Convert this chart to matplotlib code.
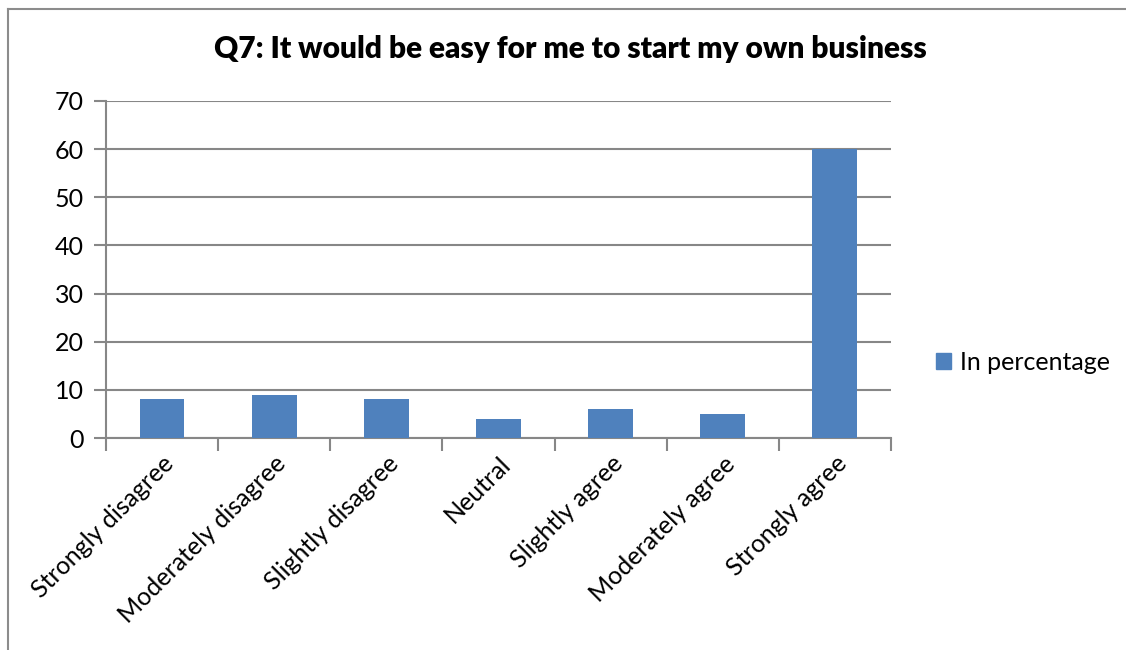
import matplotlib.pyplot as plt
from matplotlib.lines import Line2D
from matplotlib.patches import Patch

categories = ["Strongly disagree", "Moderately disagree", "Slightly disagree",
              "Neutral", "Slightly agree", "Moderately agree", "Strongly agree"]
percentages = [8, 9, 8, 4, 6, 5, 60]
y_ticks = [0, 10, 20, 30, 40, 50, 60, 70]

BAR = "#4F81BD"
GRID = "#878787"

plt.rcParams["font.family"] = ["Lato", "DejaVu Sans"]

fig = plt.figure(figsize=(11.26, 6.5), dpi=100)
ax = fig.add_axes([106 / 1126, 1 - 438 / 650, 785 / 1126, 337 / 650])

x = list(range(len(categories)))
ax.bar(x, percentages, width=0.4, color=BAR, zorder=3)

ax.set_xlim(-0.5, len(categories) - 0.5)
ax.set_ylim(0, 70)
ax.set_yticks(y_ticks)
ax.set_yticklabels([str(v) for v in y_ticks], fontsize=18)
ax.yaxis.grid(True, color=GRID, linewidth=1.5, zorder=0)
ax.tick_params(axis="y", length=9, width=1.5, color=GRID, pad=7)

# category labels in the middle, ticks on the category boundaries
ax.set_xticks(x)
ax.set_xticklabels(categories, rotation=45, ha="right", rotation_mode="anchor",
                   fontsize=18)
ax.tick_params(axis="x", length=0, pad=10)
ax.set_xticks([i - 0.5 for i in range(len(categories) + 1)], minor=True)
ax.tick_params(axis="x", which="minor", length=9, width=1.5, color=GRID)

for side in ["top", "right"]:
    ax.spines[side].set_visible(False)
for side in ["left", "bottom"]:
    ax.spines[side].set_color(GRID)
    ax.spines[side].set_linewidth(1.5)

fig.text(570 / 1126, 1 - 49 / 650, "Q7: It would be easy for me to start my own business",
         ha="center", va="center", fontsize=21.5, fontweight="heavy")

fig.legend(handles=[Patch(color=BAR, label="In percentage")],
           loc="center left", bbox_to_anchor=(913 / 1126, 1 - 362 / 650),
           frameon=False, fontsize=18, handlelength=0.6, handleheight=0.6,
           handletextpad=0.4)

# chart frame
fig.add_artist(Line2D([8 / 1126, 8 / 1126], [0, 1 - 9 / 650],
                      transform=fig.transFigure, color="#8C8C8C", linewidth=1.5))
fig.add_artist(Line2D([8 / 1126, 1], [1 - 9 / 650, 1 - 9 / 650],
                      transform=fig.transFigure, color="#8C8C8C", linewidth=1.5))

fig.savefig("out.png", dpi=100)
